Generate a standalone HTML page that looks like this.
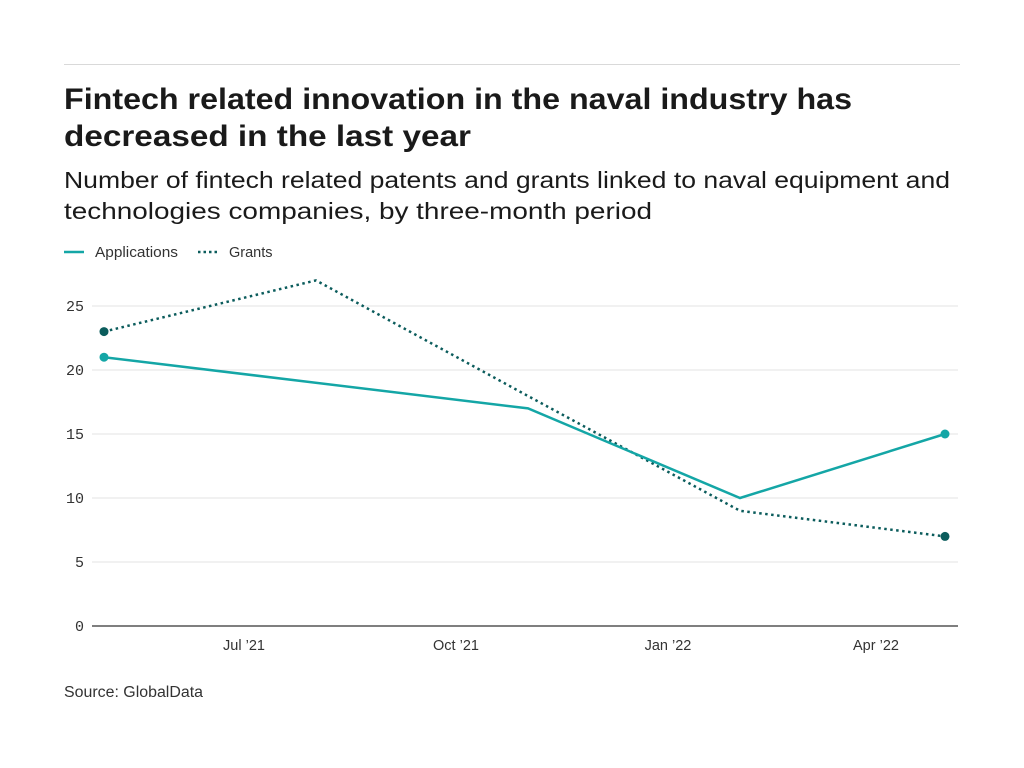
<!DOCTYPE html>
<html><head><meta charset="utf-8"><style>
body{margin:0;background:#fff;}
svg{display:block;}
</style></head><body>
<svg width="1024" height="768" xmlns="http://www.w3.org/2000/svg" font-family="Liberation Sans, sans-serif">
<rect width="1024" height="768" fill="#fff"/>
<line x1="64" y1="64.5" x2="960" y2="64.5" stroke="#d9d9d9" stroke-width="1"/>
<text x="64" y="109" font-size="30" font-weight="bold" fill="#1a1a1a" textLength="788" lengthAdjust="spacingAndGlyphs">Fintech related innovation in the naval industry has</text>
<text x="64" y="146" font-size="30" font-weight="bold" fill="#1a1a1a" textLength="407" lengthAdjust="spacingAndGlyphs">decreased in the last year</text>
<text x="64" y="188" font-size="23" fill="#1a1a1a" textLength="886" lengthAdjust="spacingAndGlyphs">Number of fintech related patents and grants linked to naval equipment and</text>
<text x="64" y="219" font-size="23" fill="#1a1a1a" textLength="588" lengthAdjust="spacingAndGlyphs">technologies companies, by three-month period</text>
<line x1="64" y1="252" x2="84" y2="252" stroke="#14a6a6" stroke-width="2.5"/>
<text x="95" y="257" font-size="14.5" fill="#333" textLength="83" lengthAdjust="spacingAndGlyphs">Applications</text>
<line x1="198" y1="252" x2="218" y2="252" stroke="#0b5c5c" stroke-width="2.5" stroke-dasharray="2.5,3"/>
<text x="229" y="257" font-size="14.5" fill="#333">Grants</text>
<g stroke="#e3e3e3" stroke-width="1">
<line x1="92" y1="306" x2="958" y2="306"/>
<line x1="92" y1="370" x2="958" y2="370"/>
<line x1="92" y1="434" x2="958" y2="434"/>
<line x1="92" y1="498" x2="958" y2="498"/>
<line x1="92" y1="562" x2="958" y2="562"/>
</g>
<line x1="92" y1="626" x2="958" y2="626" stroke="#555" stroke-width="1.5"/>
<g font-family="Liberation Mono, monospace" font-size="15" fill="#333" text-anchor="end">
<text x="84" y="311">25</text>
<text x="84" y="375">20</text>
<text x="84" y="439">15</text>
<text x="84" y="503">10</text>
<text x="84" y="567">5</text>
<text x="84" y="631">0</text>
</g>
<g font-size="14.5" fill="#333" text-anchor="middle">
<text x="244" y="650">Jul ’21</text>
<text x="456" y="650">Oct ’21</text>
<text x="668" y="650">Jan ’22</text>
<text x="876" y="650">Apr ’22</text>
</g>
<polyline points="104,331.6 316,280.4 528,396 740,510.8 945,536.4" fill="none" stroke="#0b5c5c" stroke-width="2.5" stroke-dasharray="2.5,3.5"/>
<polyline points="104,357.2 528,408.4 740,498 945,434" fill="none" stroke="#14a6a6" stroke-width="2.5"/>
<circle cx="104" cy="331.6" r="4.5" fill="#0b5c5c"/>
<circle cx="945" cy="536.4" r="4.5" fill="#0b5c5c"/>
<circle cx="104" cy="357.2" r="4.5" fill="#14a6a6"/>
<circle cx="945" cy="434" r="4.5" fill="#14a6a6"/>
<text x="64" y="697" font-size="15.5" fill="#333" textLength="139" lengthAdjust="spacingAndGlyphs">Source: GlobalData</text>
</svg>
</body></html>
